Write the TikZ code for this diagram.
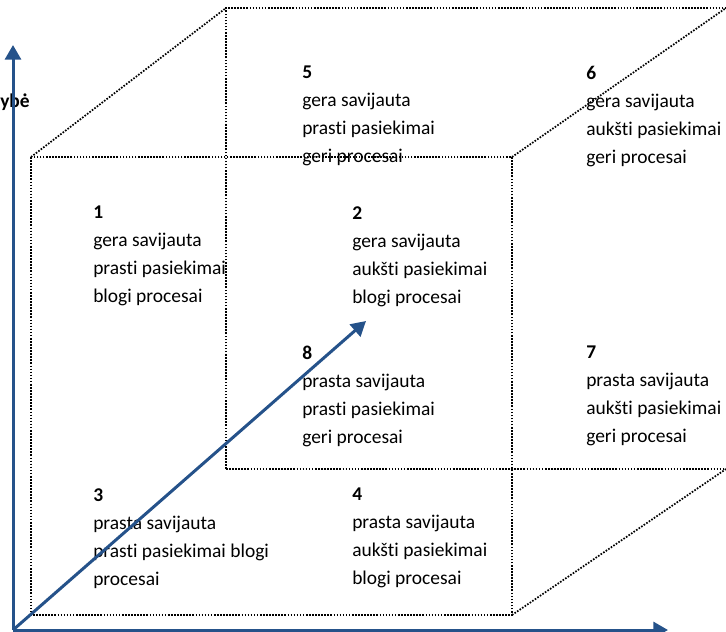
\documentclass[tikz,border=0pt]{standalone}
\usepackage{fontspec}
\setmainfont{Carlito}[Ligatures=NoCommon]
\usepackage{xcolor}
\usepackage{tikz}
\usetikzlibrary{arrows.meta}
\definecolor{axisblue}{HTML}{25528A}

\begin{document}
\begin{tikzpicture}[x=0.75pt,y=-0.75pt,
                    cell/.style={anchor=north west,inner sep=0pt,align=left,font=\fontsize{14.6}{21}\selectfont},
                    edge line/.style={line width=1.3pt,dash pattern=on 1.2pt off 1.1pt},
                    axis/.style={line width=2.25pt,draw=axisblue,-{Triangle[length=11pt,width=12pt]}}]

 \useasboundingbox (0,0) rectangle (726,632);

 % cube
 \draw[edge line] (31,157) rectangle (512,615);
 \draw[edge line] (226,469) -- (226,8) -- (726,8);
 \draw[edge line] (226,469) -- (726,469);
 \draw[edge line] (31,157) -- (226,8);
 \draw[edge line] (512,157) -- (726,8);
 \draw[edge line] (512,615) -- (726,469);

 % cells
 \node[cell] (1) at (93,206) {\textbf{1}\\gera savijauta\\prasti pasiekimai\\blogi procesai};
 \node[cell] (2) at (352,206) {\textbf{2}\\gera savijauta\\aukšti pasiekimai\\blogi procesai};
 \node[cell] (3) at (93,488) {\textbf{3}\\prasta savijauta\\prasti pasiekimai blogi\\procesai};
 \node[cell] (4) at (352,488) {\textbf{4}\\prasta savijauta\\aukšti pasiekimai\\blogi procesai};
 \node[cell] (5) at (302,66) {\textbf{5}\\gera savijauta\\prasti pasiekimai\\geri procesai};
 \node[cell] (6) at (586,66) {\textbf{6}\\gera savijauta\\aukšti pasiekimai\\geri procesai};
 \node[cell] (7) at (586,346) {\textbf{7}\\prasta savijauta\\aukšti pasiekimai\\geri procesai};
 \node[cell] (8) at (302,346) {\textbf{8}\\prasta savijauta\\prasti pasiekimai\\geri procesai};

 % axes
 \coordinate (origin) at (13,630);
 \coordinate (xend) at (668,630);
 \coordinate (yend) at (13,45);
 \coordinate (zend) at (366,321);

 \node[anchor=west,inner sep=0pt,font=\fontsize{14.6}{21}\selectfont\bfseries] (ylabel) at (0,102) {ybė};

 \draw[axis] (origin) -- (xend);
 \draw[axis] (origin) -- (yend);
 \draw[axis] (origin) -- (zend);

\end{tikzpicture}
\end{document}
